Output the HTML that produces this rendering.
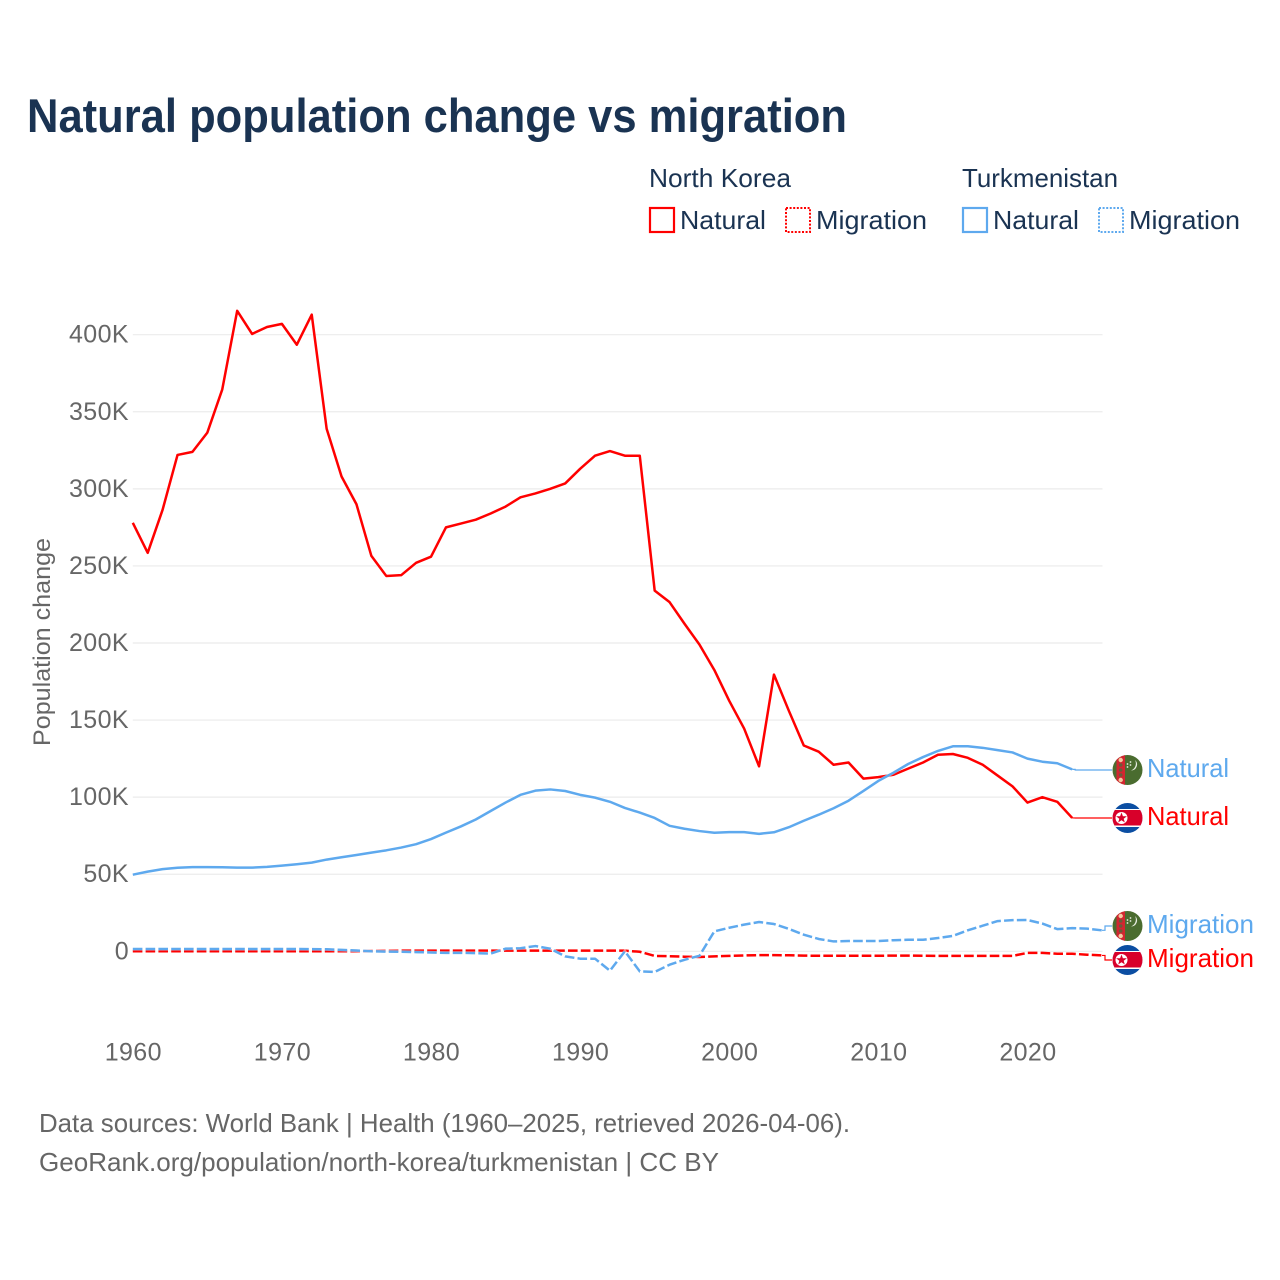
<!DOCTYPE html>
<html lang="en">
<head>
<meta charset="utf-8">
<title>Natural population change vs migration</title>
<style>
html,body{margin:0;padding:0;background:#fff;}
svg{display:block;}
text{font-family:"Liberation Sans",sans-serif;}
</style>
</head>
<body>
<svg id="chart" xmlns="http://www.w3.org/2000/svg" width="1280" height="1280" viewBox="0 0 1280 1280">
  <defs>
    <clipPath id="flag-clip"><circle cx="0" cy="0" r="15"/></clipPath>
    <g id="flag-tm" clip-path="url(#flag-clip)">
      <rect x="-15" y="-15" width="30" height="30" fill="#4a6c2f"/>
      <rect x="-11" y="-15" width="8.5" height="30" fill="#d22630"/>
      <circle cx="-6.8" cy="-10" r="2.2" fill="#f3c9a0"/>
      <circle cx="-6.8" cy="-5" r="1.8" fill="#6d5a3a"/>
      <circle cx="-6.8" cy="0" r="1.8" fill="#6d5a3a"/>
      <circle cx="-6.8" cy="5" r="1.8" fill="#6d5a3a"/>
      <circle cx="-6.8" cy="10" r="2.2" fill="#f3c9a0"/>
      <path d="M7.5,-10 a6,6 0 0 1 -4,10.5 a7.5,7.5 0 0 0 4,-10.5 z" fill="#e6ece0"/>
      <circle cx="0" cy="-6" r="0.9" fill="#e6ece0"/>
      <circle cx="3" cy="-8" r="0.9" fill="#e6ece0"/>
      <circle cx="0" cy="-3" r="0.9" fill="#e6ece0"/>
      <circle cx="3" cy="-5" r="0.9" fill="#e6ece0"/>
    </g>
    <g id="flag-kp" clip-path="url(#flag-clip)">
      <rect x="-15" y="-15" width="30" height="30" fill="#0b4ea2"/>
      <rect x="-15" y="-9" width="30" height="18" fill="#fff"/>
      <rect x="-15" y="-8" width="30" height="15.5" fill="#d8002a"/>
      <circle cx="-6" cy="0" r="6" fill="#fff"/>
      <path d="M-6,-5.5 L-4.6,-1.7 L-0.6,-1.7 L-3.8,0.7 L-2.7,4.5 L-6,2.2 L-9.3,4.5 L-8.2,0.7 L-11.4,-1.7 L-7.4,-1.7 Z" fill="#d8002a"/>
    </g>
  </defs>

  <rect x="0" y="0" width="1280" height="1280" fill="#fff"/>

  <text x="27" y="132" font-size="47" font-weight="700" fill="#1a3352" textLength="820" lengthAdjust="spacingAndGlyphs">Natural population change vs migration</text>

  <g font-size="26" fill="#1a3352">
    <text x="649" y="187" textLength="142" lengthAdjust="spacingAndGlyphs">North Korea</text>
    <rect x="650" y="208" width="24" height="24" fill="none" stroke="#ff0000" stroke-width="2.2"/>
    <text x="680" y="229" textLength="86" lengthAdjust="spacingAndGlyphs">Natural</text>
    <rect x="786" y="208" width="24" height="24" fill="none" stroke="#ff0000" stroke-width="2" stroke-dasharray="2 1.6"/>
    <text x="816" y="229" textLength="111" lengthAdjust="spacingAndGlyphs">Migration</text>
    <text x="962" y="187" textLength="156" lengthAdjust="spacingAndGlyphs">Turkmenistan</text>
    <rect x="963" y="208" width="24" height="24" fill="none" stroke="#5ea9ee" stroke-width="2.2"/>
    <text x="993" y="229" textLength="86" lengthAdjust="spacingAndGlyphs">Natural</text>
    <rect x="1099" y="208" width="24" height="24" fill="none" stroke="#5ea9ee" stroke-width="2" stroke-dasharray="2 1.6"/>
    <text x="1129" y="229" textLength="111" lengthAdjust="spacingAndGlyphs">Migration</text>
  </g>

  <text transform="translate(50,746) rotate(-90)" font-size="24" fill="#666" textLength="208" lengthAdjust="spacingAndGlyphs">Population change</text>

  <g id="grid"></g>
  <g id="y-ticks"></g>
  <g id="x-ticks"></g>
  <g id="series"></g>

  <g font-size="26">
    <use href="#flag-tm" x="1127.5" y="770"/>
    <text x="1147" y="777" fill="#5ea9ee" textLength="82" lengthAdjust="spacingAndGlyphs">Natural</text>
    <use href="#flag-kp" x="1127.5" y="818"/>
    <text x="1147" y="825" fill="#ff0000" textLength="82" lengthAdjust="spacingAndGlyphs">Natural</text>
    <use href="#flag-tm" x="1127.5" y="926"/>
    <text x="1147" y="933" fill="#5ea9ee" textLength="107" lengthAdjust="spacingAndGlyphs">Migration</text>
    <use href="#flag-kp" x="1127.5" y="960"/>
    <text x="1147" y="967" fill="#ff0000" textLength="107" lengthAdjust="spacingAndGlyphs">Migration</text>
  </g>

  <g font-size="26" fill="#666">
    <text x="39" y="1132" textLength="811" lengthAdjust="spacingAndGlyphs">Data sources: World Bank | Health (1960–2025, retrieved 2026-04-06).</text>
    <text x="39" y="1171" textLength="680" lengthAdjust="spacingAndGlyphs">GeoRank.org/population/north-korea/turkmenistan | CC BY</text>
  </g>
</svg>

<script>
// Chart data (values in thousands; first value is 1960, one per year)
var startYear = 1960;
var yTickValues = [0, 50, 100, 150, 200, 250, 300, 350, 400];
var yTickLabels = ['0', '50K', '100K', '150K', '200K', '250K', '300K', '350K', '400K'];
var xTickYears = [1960, 1970, 1980, 1990, 2000, 2010, 2020];

var koreaNatural = [278, 258.5, 286.5, 322, 324, 336.5, 364.5, 415.5, 400.5, 405, 407, 393.5, 413, 339, 308, 290, 256.5, 243.5, 244, 252, 256, 275, 277.5, 280, 284, 288.5, 294.5, 297, 300, 303.5, 313, 321.5, 324.5, 321.5, 321.5, 234, 226.5, 212.5, 199, 182.5, 162.5, 144.5, 120, 179.5, 156, 133.5, 129.5, 121, 122.5, 112, 113, 114.5, 118.5, 122.5, 127.5, 128, 125.5, 121, 114, 107, 96.5, 100, 97, 86.5];

var turkmenNatural = [49.7, 51.7, 53.3, 54.2, 54.6, 54.6, 54.5, 54.3, 54.3, 54.8, 55.6, 56.5, 57.5, 59.5, 61, 62.5, 64, 65.5, 67.3, 69.5, 72.8, 77, 81, 85.5, 91, 96.5, 101.5, 104.2, 105, 104, 101.5, 99.7, 97, 93, 90, 86.5, 81.4, 79.5, 78, 76.9, 77.3, 77.3, 76.2, 77.2, 80.5, 84.7, 88.6, 92.8, 97.7, 104, 110.5, 115.8, 121.5, 126, 130, 133, 133, 132, 130.5, 129, 125, 123, 122, 118];

var koreaMigration = [0, 0, 0, 0, 0, 0, 0, 0, 0, 0, 0, 0, 0, 0, 0, 0, 0.2, 0.3, 0.4, 0.4, 0.4, 0.4, 0.4, 0.4, 0.4, 0.4, 0.4, 0.4, 0.4, 0.4, 0.4, 0.4, 0.4, 0.4, -0.3, -3, -3.2, -3.5, -3.7, -3.3, -3, -2.7, -2.5, -2.5, -2.6, -2.8, -2.9, -2.9, -2.9, -2.9, -2.9, -2.8, -2.8, -2.9, -3, -3, -3, -3, -3, -3, -1, -1, -1.6, -1.6, -2.2, -2.7];

var turkmenMigration = [1.5, 1.5, 1.5, 1.5, 1.5, 1.5, 1.5, 1.5, 1.5, 1.5, 1.5, 1.5, 1.4, 1.3, 0.9, 0.5, 0, -0.2, -0.3, -0.5, -0.8, -1, -1, -1.2, -1.5, 1.7, 2, 3.4, 1.7, -3.3, -4.8, -4.8, -12.6, 0, -13, -13.4, -8.7, -5.5, -2.9, 12.9, 15.3, 17.3, 19, 17.7, 14.5, 10.8, 8, 6.4, 6.7, 6.7, 6.7, 7.2, 7.5, 7.5, 8.6, 10, 13.6, 16.6, 19.6, 20.2, 20.3, 18, 14.4, 15, 14.7, 13.6];

var SVGNS = 'http://www.w3.org/2000/svg';
function xScale(year) { return 132.8 + (year - 1960) * (1102 - 132.8) / 65; }
function yScale(v) { return 951.3 - v * (951.3 - 334.7) / 400; }

function make(tag, attrs, parent) {
  var n = document.createElementNS(SVGNS, tag);
  for (var k in attrs) n.setAttribute(k, attrs[k]);
  parent.appendChild(n);
  return n;
}

var gridG = document.getElementById('grid');
var yG = document.getElementById('y-ticks');
var xG = document.getElementById('x-ticks');
var seriesG = document.getElementById('series');

yTickValues.forEach(function (v, i) {
  var line = make('line', { x1: 132.8, x2: 1102.5, y1: yScale(v), y2: yScale(v), stroke: '#ebebeb', 'stroke-width': 1.2 }, gridG);
  
  
  var t = make('text', { x: 129, y: yScale(v) + 8, 'text-anchor': 'end', 'font-size': 25, fill: '#666', 'letter-spacing': 0.4 }, yG);
  
  
  t.textContent = yTickLabels[i];
});

xTickYears.forEach(function (yr) {
  var t = make('text', { x: xScale(yr) + 0.5, y: 1060.5, 'text-anchor': 'middle', 'font-size': 25, fill: '#666', 'letter-spacing': 0.4 }, xG);
  
  
  t.textContent = yr;
});

function linePath(values) {
  return values.map(function (v, i) {
    return (i ? 'L' : 'M') + xScale(startYear + i).toFixed(2) + ' ' + yScale(v).toFixed(2);
  }).join(' ');
}

function drawSeries(values, color, dash, labelY, name) {
  var lastX = xScale(startYear + values.length - 1);
  var lastY = yScale(values[values.length - 1]);
  var midX = lastX + 3;
  var conn = make('path', {
    d: 'M' + lastX + ' ' + lastY + ' L' + midX + ' ' + lastY + ' L' + midX + ' ' + labelY + ' L1112 ' + labelY,
    fill: 'none', stroke: color, 'stroke-width': 1.2
  }, seriesG);
  
  

  var d = linePath(values);
  var halo = make('path', { d: d, fill: 'none', stroke: '#fff', 'stroke-width': 3.2, 'stroke-opacity': 0.5 }, seriesG);
  
  
  var p = make('path', { d: d, fill: 'none', stroke: color, 'stroke-width': 2.5, 'stroke-linejoin': 'round' }, seriesG);
  if (dash) p.setAttribute('stroke-dasharray', dash);
  
  
}

drawSeries(koreaMigration, '#ff0000', '9.6 3.2', 960, 'north-korea-migration');
drawSeries(turkmenMigration, '#5ea9ee', '9.6 3.2', 926, 'turkmenistan-migration');
drawSeries(koreaNatural, '#ff0000', null, 818, 'north-korea-natural');
drawSeries(turkmenNatural, '#5ea9ee', null, 770, 'turkmenistan-natural');
</script>
</body>
</html>
